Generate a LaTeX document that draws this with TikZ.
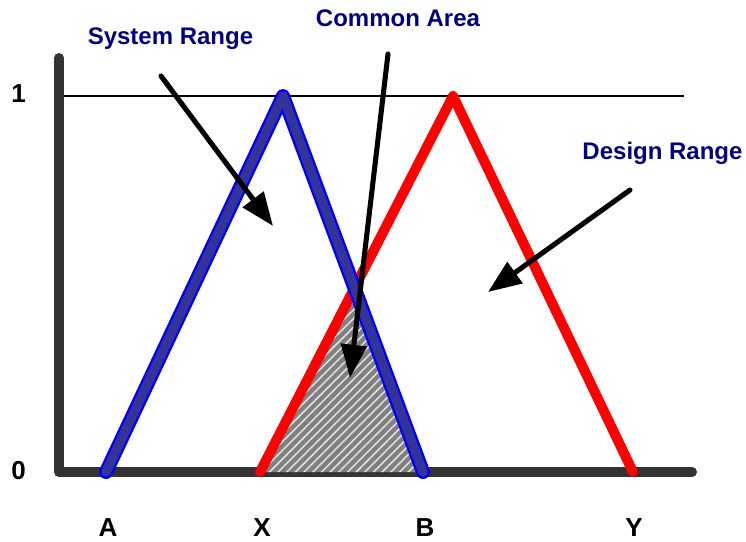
\documentclass[tikz,border=0pt]{standalone}
\usepackage{fontspec}
\setmainfont{Liberation Sans}
\usetikzlibrary{arrows.meta,patterns.meta}
\definecolor{axisgray}{HTML}{333333}
\definecolor{sysfill}{HTML}{333399}
\definecolor{navytext}{HTML}{000080}
\definecolor{hatchgray}{HTML}{808080}
\tikzset{
  axisline/.style={draw=axisgray, line width=7.5pt, line cap=round, line join=round},
  refline/.style={draw=black, line width=1pt},
  sysout/.style={draw=blue, line width=10.5pt, line cap=round, line join=round},
  sysin/.style={draw=sysfill, line width=7pt, line cap=round, line join=round},
  designline/.style={draw=red, line width=7.5pt, line cap=round, line join=round},
  pointer/.style={draw=black, line width=3.8pt, line cap=round, -{Triangle[length=25pt,width=19pt]}},
  title/.style={font=\bfseries\fontsize{18pt}{20pt}\selectfont, text=navytext, anchor=base, inner sep=0pt},
  ticklabel/.style={font=\bfseries\fontsize{19.5pt}{21pt}\selectfont, text=black, anchor=base, inner sep=0pt}
}
\begin{document}
\begin{tikzpicture}[x=0.75pt, y=-0.75pt]
\useasboundingbox (0,0) rectangle (746,542);
% key points
\coordinate (O) at (59,472);
\coordinate (Top) at (59,58);
\coordinate (Right) at (692,472);
\coordinate (L1) at (64,96);
\coordinate (L2) at (684,96);
\coordinate (A) at (106,472);
\coordinate (SP) at (283,96);
\coordinate (B) at (423,472);
\coordinate (X) at (260,472);
\coordinate (DP) at (453,96);
\coordinate (Y) at (633,472);
\coordinate (C) at (intersection of X--DP and SP--B);
% axes
\draw[axisline] (Top) -- (O) -- (Right);
\draw[refline] (L1) -- (L2);
% common area
\fill[hatchgray] (X) -- (C) -- (B) -- cycle;
\fill[pattern={Lines[angle=45,distance=4.6pt,line width=1.1pt]}, pattern color=white!80!gray] (X) -- (C) -- (B) -- cycle;
% design range
\draw[designline] (X) -- (DP) -- (Y);
% system range
\draw[sysout] (A) -- (SP) -- (B);
\draw[sysin] (A) -- (SP) -- (B);
% labels
\node[title] (tsys) at (170.5,45) {System Range};
\node[title] (tcom) at (398,27) {Common Area};
\node[title] (tdes) at (662.5,159) {Design Range};
\node[ticklabel] (t1) at (18.5,103) {1};
\node[ticklabel] (t0) at (18.5,479) {0};
\node[ticklabel] (tA) at (108,536) {A};
\node[ticklabel] (tX) at (262,536) {X};
\node[ticklabel] (tB) at (425,536) {B};
\node[ticklabel] (tY) at (634,536) {Y};
% arrows
\coordinate (s1) at (161,76);
\coordinate (e1) at (273,226);
\coordinate (s2) at (388,54);
\coordinate (e2) at (350,378);
\coordinate (s3) at (630,190);
\coordinate (e3) at (488,292);
\draw[pointer] (s1) -- (e1);
\draw[pointer] (s2) -- (e2);
\draw[pointer] (s3) -- (e3);
\end{tikzpicture}
\end{document}
